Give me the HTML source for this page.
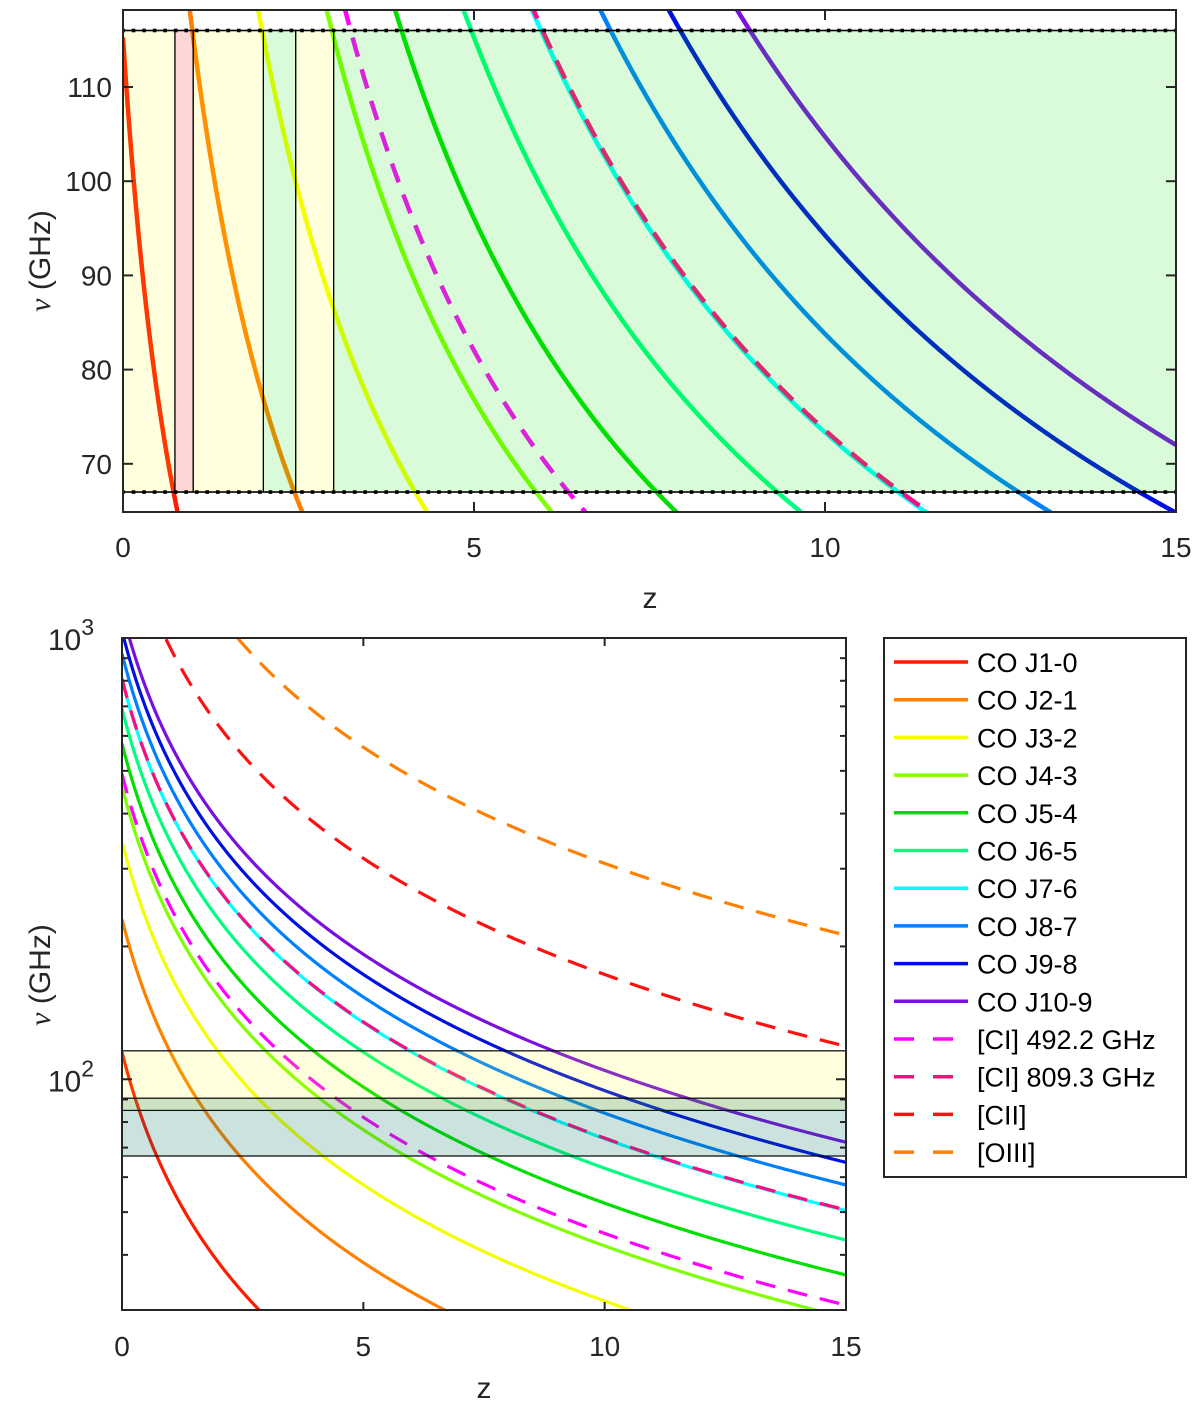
<!DOCTYPE html>
<html><head><meta charset="utf-8"><style>
html,body{margin:0;padding:0;background:#fff;overflow:hidden;width:1200px;height:1411px;}
svg{display:block;font-family:"Liberation Sans",sans-serif;}
</style></head><body>
<svg id="fig" width="1200" height="1411" xmlns="http://www.w3.org/2000/svg"></svg>
<script>
const lineNames=["CO J1-0","CO J2-1","CO J3-2","CO J4-3","CO J5-4","CO J6-5","CO J7-6","CO J8-7","CO J9-8","CO J10-9","[CI] 492.2 GHz","[CI] 809.3 GHz","[CII]","[OIII]"];
const restFreqs=[115.27,230.54,345.80,461.04,576.27,691.47,806.65,921.80,1036.91,1151.99,492.16,809.34,1900.54,3393.01];
const lineColors=["#ff1a00","#ff8000","#f2ff00","#80ff00","#00e000","#00ff80","#00ffff","#0080ff","#0010e0","#7a10e0","#ff00ff","#ff0a80","#ff1010","#ff8000"];
const dashed=[false,false,false,false,false,false,false,false,false,false,true,true,true,true];
const topYTicks=[70,80,90,100,110];
const xTicks=[0,5,10,15];
const topBands=[[0,0.74,"y"],[0.74,1,"p"],[1,2,"y"],[2,2.46,"g"],[2.46,3,"y"],[3,15,"g"]];
const bandLimits=[67,116];
const botBands=[[85,116,"y"],[67,90.6,"t"]];

const NS="http://www.w3.org/2000/svg";
const svg=document.getElementById('fig');
function el(tag,attrs,parent){const e=document.createElementNS(NS,tag);for(const k in attrs)e.setAttribute(k,attrs[k]);(parent||svg).appendChild(e);return e;}

const T={x0:123,x1:1176,y0:10,y1:512};
const tx=z=>T.x0+z*(T.x1-T.x0)/15;
const ty=v=>87+(110-v)*9.42;
const B={x0:122,x1:846,y0:638,y1:1310};
const bx=z=>B.x0+z*(B.x1-B.x0)/15;
const by=v=>B.y0+(3-Math.log10(v))*(B.y1-B.y0)/(3-Math.log10(30));

const defs=el('defs',{});
const cp1=el('clipPath',{id:'c1'},defs);el('rect',{x:T.x0,y:T.y0,width:T.x1-T.x0,height:T.y1-T.y0},cp1);
const cp2=el('clipPath',{id:'c2'},defs);el('rect',{x:B.x0,y:B.y0,width:B.x1-B.x0,height:B.y1-B.y0},cp2);

function curve(g,sx,sy,f,i,w,dash){
  let d="";
  for(let k=0;k<=600;k++){const z=k*15/600;const v=f/(1+z);d+=(k?"L":"M")+sx(z).toFixed(2)+","+sy(v).toFixed(2);}
  const p=el('path',{d:d,fill:"none",stroke:lineColors[i],"stroke-width":w},g);
  if(dash)p.setAttribute('stroke-dasharray',dash);
  
  
  return p;
}

const gT=el('g',{'clip-path':'url(#c1)',});
[0,1,2,3,4,5,6,7,8,9,10,11].forEach(i=>curve(gT,tx,ty,restFreqs[i],i,4.5,dashed[i]?"20 13":null));
const fillC={y:"rgba(255,255,0,0.13)",p:"rgba(255,0,0,0.16)",g:"rgba(0,225,0,0.15)",t:"rgba(0,110,90,0.2)"};
topBands.forEach(b=>{
  const r=el('rect',{x:tx(b[0]),y:ty(bandLimits[1]),width:tx(b[1])-tx(b[0]),height:ty(bandLimits[0])-ty(bandLimits[1]),fill:fillC[b[2]],stroke:"#000","stroke-width":1.2},gT);
  
  
});
bandLimits.forEach(v=>{
  const l=el('line',{x1:T.x0,x2:T.x1,y1:ty(v),y2:ty(v),stroke:"#000","stroke-width":1.5},gT);
  
  
  for(let z=0;z<=15.001;z+=0.15){el('rect',{x:tx(z)-1.8,y:ty(v)-1.8,width:3.6,height:3.6,fill:"#000"},gT);}
});
el('rect',{x:T.x0,y:T.y0,width:T.x1-T.x0,height:T.y1-T.y0,fill:"none",stroke:"#262626","stroke-width":2,});
topYTicks.forEach(v=>{
  el('line',{x1:T.x0,x2:T.x0+10,y1:ty(v),y2:ty(v),stroke:"#262626","stroke-width":2});
  el('line',{x1:T.x1,x2:T.x1-10,y1:ty(v),y2:ty(v),stroke:"#262626","stroke-width":2});
  const t=el('text',{x:T.x0-11,y:ty(v)+10,"text-anchor":"end","font-size":28,fill:"#262626"});t.textContent=v;
  
});
xTicks.forEach(z=>{
  el('line',{x1:tx(z),x2:tx(z),y1:T.y1,y2:T.y1-10,stroke:"#262626","stroke-width":2});
  el('line',{x1:tx(z),x2:tx(z),y1:T.y0,y2:T.y0+10,stroke:"#262626","stroke-width":2});
  const t=el('text',{x:tx(z),y:557,"text-anchor":"middle","font-size":28,fill:"#262626"});t.textContent=z;
  
});
let t1=el('text',{x:650,y:608,"text-anchor":"middle","font-size":30,fill:"#262626",});t1.textContent="z";
t1=el('text',{transform:"translate(50,261) rotate(-90)","text-anchor":"middle","font-size":30,fill:"#262626",});
t1.innerHTML='<tspan font-family="Liberation Serif" font-style="italic">ν</tspan> (GHz)';

const gB=el('g',{'clip-path':'url(#c2)',});
[0,1,2,3,4,5,6,7,8,9,10,11,12,13].forEach(i=>curve(gB,bx,by,restFreqs[i],i,3.2,dashed[i]?"20 13":null));
botBands.forEach(b=>{
  const r=el('rect',{x:B.x0,y:by(b[1]),width:B.x1-B.x0,height:by(b[0])-by(b[1]),fill:fillC[b[2]],stroke:"#000","stroke-width":1.2},gB);
  
  
});
el('rect',{x:B.x0,y:B.y0,width:B.x1-B.x0,height:B.y1-B.y0,fill:"none",stroke:"#262626","stroke-width":2,});
[40,50,60,70,80,90,100,200,300,400,500,600,700,800,900].forEach(v=>{
  const len=v===100?10:6;
  el('line',{x1:B.x0,x2:B.x0+len,y1:by(v),y2:by(v),stroke:"#262626","stroke-width":2});
  el('line',{x1:B.x1,x2:B.x1-len,y1:by(v),y2:by(v),stroke:"#262626","stroke-width":2});
});
[[100,"2"],[1000,"3"]].forEach(p=>{
  const t=el('text',{x:94,y:by(p[0])+12,"text-anchor":"end","font-size":30,fill:"#262626"});
  t.innerHTML='10<tspan dy="-15" font-size="23">'+p[1]+'</tspan>';
  
});
xTicks.forEach(z=>{
  el('line',{x1:bx(z),x2:bx(z),y1:B.y1,y2:B.y1-8,stroke:"#262626","stroke-width":2});
  el('line',{x1:bx(z),x2:bx(z),y1:B.y0,y2:B.y0+8,stroke:"#262626","stroke-width":2});
  const t=el('text',{x:bx(z),y:1356,"text-anchor":"middle","font-size":28,fill:"#262626"});t.textContent=z;
  
});
t1=el('text',{x:484,y:1398,"text-anchor":"middle","font-size":30,fill:"#262626",});t1.textContent="z";
t1=el('text',{transform:"translate(50,975) rotate(-90)","text-anchor":"middle","font-size":30,fill:"#262626",});
t1.innerHTML='<tspan font-family="Liberation Serif" font-style="italic">ν</tspan> (GHz)';

const gL=el('g',{});
el('rect',{x:884,y:638,width:302,height:539,fill:"#fff",stroke:"#262626","stroke-width":2},gL);
lineNames.forEach((n,i)=>{
  const y=662+i*37.7;
  const l=el('line',{x1:894,x2:968,y1:y,y2:y,stroke:lineColors[i],"stroke-width":3.5},gL);
  if(dashed[i])l.setAttribute('stroke-dasharray',"20 19");
  
  const t=el('text',{x:977,y:y+10,"font-size":27,fill:"#000"},gL);t.textContent=n;
  
});
</script>
</body></html>
